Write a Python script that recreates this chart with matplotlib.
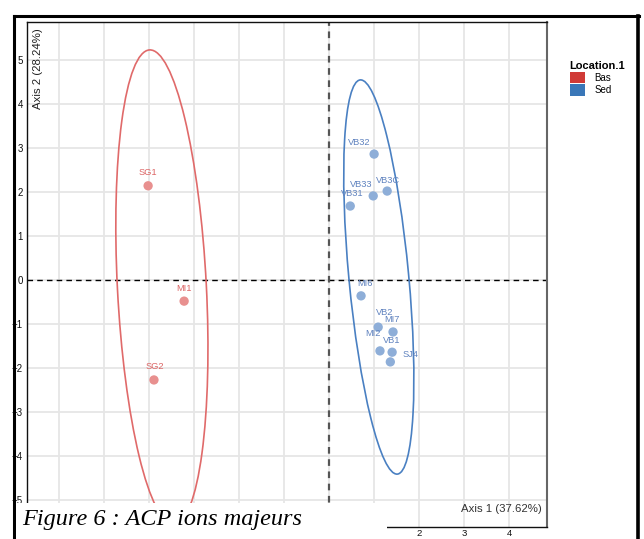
import numpy as np
import matplotlib
matplotlib.use("Agg")
import matplotlib.pyplot as plt
from matplotlib.patches import Ellipse, Patch
from matplotlib.lines import Line2D

# PCA scores
names = ["SG1", "MI1", "SG2", "VB32", "VB33", "VB30", "VB31",
         "MI6", "VB2", "MI7", "MI2", "VB1", "SJ4"]
axis1 = [-4.02, -3.22, -3.89, 1.00, 0.98, 1.29, 0.47,
         0.71, 1.09, 1.42, 1.13, 1.40, 1.36]
axis2 = [2.14, -0.48, -2.27, 2.86, 1.91, 2.02, 1.68,
         -0.36, -1.07, -1.18, -1.61, -1.64, -1.86]
location = ["Bas", "Bas", "Bas", "Sed", "Sed", "Sed", "Sed",
            "Sed", "Sed", "Sed", "Sed", "Sed", "Sed"]
shown_labels = ["SG1", "MI1", "SG2", "VB32", "VB33", "VB3C", "VB31",
                "MI6", "VB2", "MI7", "MI2", "VB1", "SJ4"]
x_ticks = list(range(-6, 5))
y_ticks = list(range(-5, 6))

# ellipse estimates per group: centre, half width at centre, half height, shear
ell_groups = ["Bas", "Sed"]
ell_cx = [-3.714, 1.104]
ell_cy = [-0.16, 0.068]
ell_w = [0.989, 0.667]
ell_h = [5.386, 4.477]
ell_k = [-0.0489, -0.090]

# label offsets in pixels (repel-like placement)
label_dx = [0, 0, 1, -15, -12, 1, 2, 4, 6, -1, -7, 0, 20]
label_dy = [13, 13, 13, 12, 11, 11, 13, 12, 15, 12, 17, 12, 7]

line_col = {"Bas": "#e06a6a", "Sed": "#4a80c2"}
pt_col = {"Bas": "#e8908f", "Sed": "#8eaed8"}
txt_col = {"Bas": "#dc6464", "Sed": "#5f82bf"}
legend_col = {"Bas": "#d03a36", "Sed": "#3a77b8"}

W, H = 644, 539
fig = plt.figure(figsize=(W / 100, H / 100), dpi=100)
plt.rcParams["font.family"] = ["Liberation Sans", "DejaVu Sans"]

left, right, top, bottom = 27, 547, 22, 527
ax = fig.add_axes([left / W, 1 - bottom / H, (right - left) / W, (bottom - top) / H])
ax.set_xlim(-6.71, 4.84)
ax.set_ylim(-5.61, 5.86)

# x labels left of 2 sit under the caption box in the screenshot
ax.set_xticks(x_ticks)
ax.set_xticklabels([str(t) if t >= 2 else "" for t in x_ticks])
ax.set_yticks(y_ticks)
ax.grid(True, color="#e6e6e6", linewidth=1.3, zorder=0)
ax.set_axisbelow(True)
ax.tick_params(axis="both", length=0, labelsize=7, pad=3, colors="#111111")
ax.tick_params(axis="x", pad=1.2, labelsize=6.8)
for s in ["left", "top", "bottom"]:
    ax.spines[s].set_color("#111111")
    ax.spines[s].set_linewidth(1.0)
ax.spines["right"].set_color("#666666")
ax.spines["right"].set_linewidth(1.5)

ax.axhline(0, color="black", linestyle=(0, (4, 3)), linewidth=1.0, zorder=1)
ax.axvline(0, color="#555555", linestyle=(0, (3, 2.5)), linewidth=1.6, zorder=1)

for g, cx, cy, w, h, k in zip(ell_groups, ell_cx, ell_cy, ell_w, ell_h, ell_k):
    A = np.array([[w, k * h], [0, h]])
    M = A @ A.T
    vals, vecs = np.linalg.eigh(M)
    ang = np.degrees(np.arctan2(vecs[1, 1], vecs[0, 1]))
    e = Ellipse((cx, cy), 2 * np.sqrt(vals[1]), 2 * np.sqrt(vals[0]), angle=ang,
                fill=False, edgecolor=line_col[g], linewidth=1.2, zorder=2)
    ax.add_patch(e)

for x, y, g, lab, dx, dy in zip(axis1, axis2, location, shown_labels, label_dx, label_dy):
    ax.scatter(x, y, s=45, color=pt_col[g], edgecolor="none", zorder=3)
    ax.annotate(lab, (x, y), xytext=(dx * 0.72, dy * 0.72), textcoords="offset points",
                ha="center", va="center", fontsize=6.7, color=txt_col[g], zorder=4)

ax.text(0.99, 0.025, "Axis 1 (37.62%)", transform=ax.transAxes, ha="right",
        va="bottom", fontsize=8.2, color="#333333")
ax.text(0.011, 0.988, "Axis 2 (28.24%)", transform=ax.transAxes, ha="left",
        va="top", rotation=90, fontsize=8.2, color="#222222")

handles = [Patch(facecolor=legend_col[g], edgecolor="none") for g in ["Bas", "Sed"]]
leg = fig.legend(handles, ["Bas", "Sed"], title="Location.1", loc="upper left",
                 bbox_to_anchor=(561 / W, 1 - 52 / H), frameon=False, fontsize=7,
                 title_fontproperties={"weight": "bold", "size": 8},
                 handlelength=1.55, handleheight=1.45, handletextpad=1.0,
                 labelspacing=0.1, alignment="left")

# outer frame of the screenshot
fig.add_artist(Line2D([14 / W, 639 / W], [1 - 16 / H, 1 - 16 / H],
                      transform=fig.transFigure, color="black", linewidth=2.2))
fig.add_artist(Line2D([14 / W, 14 / W], [1 - 16 / H, 0],
                      transform=fig.transFigure, color="black", linewidth=2.2))
fig.add_artist(Line2D([638 / W, 638 / W], [1 - 16 / H, 0],
                      transform=fig.transFigure, color="black", linewidth=2.6))

# caption box over the lower left
fig.patches.append(plt.Rectangle((16 / W, 0), (387 - 16) / W, (H - 503) / H,
                                 transform=fig.transFigure, facecolor="white",
                                 edgecolor="none", zorder=5))
fig.text(22 / W, 1 - 525 / H, "Figure 6 : ACP ions majeurs", ha="left", va="baseline",
         fontsize=17.5, style="italic", family=["Liberation Serif", "DejaVu Serif"],
         color="black", zorder=6)

fig.savefig("out.png", dpi=100)
